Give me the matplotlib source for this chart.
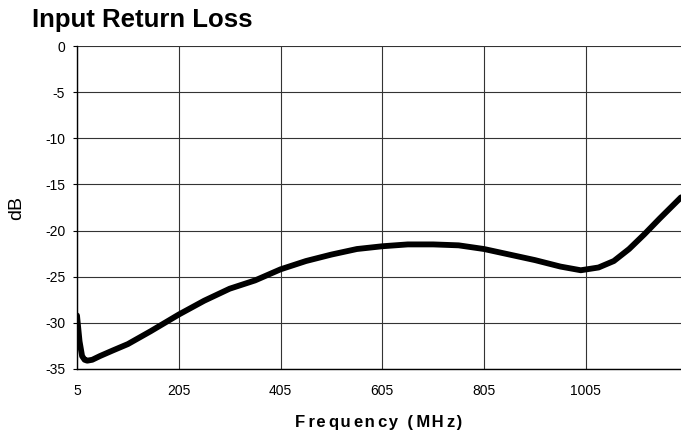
import matplotlib
matplotlib.use("Agg")
import matplotlib.pyplot as plt

freq_mhz = [5, 10, 15, 20, 25, 35, 50, 75, 105, 150, 205, 255, 305, 355, 405,
            455, 505, 555, 605, 655, 705, 755, 805, 855, 905, 955, 995, 1030,
            1060, 1090, 1120, 1150, 1192]
return_loss_db = [-29.2, -32.0, -33.6, -34.0, -34.1, -34.0, -33.6, -33.0, -32.3,
                  -30.9, -29.1, -27.6, -26.3, -25.4, -24.2, -23.3, -22.6, -22.0,
                  -21.7, -21.5, -21.5, -21.6, -22.0, -22.6, -23.2, -23.9, -24.3,
                  -24.0, -23.3, -22.0, -20.4, -18.7, -16.4]
x_ticks = [5, 205, 405, 605, 805, 1005]
y_ticks = [0, -5, -10, -15, -20, -25, -30, -35]

plt.rcParams['font.family'] = ['Liberation Sans', 'DejaVu Sans']

W, H = 681, 433
fig = plt.figure(figsize=(W / 100, H / 100), dpi=100)
ax = fig.add_axes([77/W, 1 - 369/H, 1 - 77/W, (369 - 46)/H])

ax.plot(freq_mhz, return_loss_db, color='black', lw=4.2,
        solid_joinstyle='round', solid_capstyle='round', zorder=3)

ax.set_xlim(5, 1192)
ax.set_ylim(-35, 0)
ax.set_xticks(x_ticks)
ax.set_xticklabels([str(t) for t in x_ticks])
ax.set_yticks(y_ticks)
ax.set_yticklabels([str(t) for t in y_ticks])
ax.grid(True, color='#333333', lw=0.8)
ax.tick_params(axis='x', length=0, pad=10.5, labelsize=10)
ax.tick_params(axis='y', length=3, pad=5.5, labelsize=10, width=0.8)
for s in ['left', 'bottom']:
    ax.spines[s].set_color('black')
    ax.spines[s].set_linewidth(1.0)
ax.spines['right'].set_visible(False)
ax.spines['top'].set_visible(False)

# spaced-out bold x label (alternating thin / hair spaces)
xlabel = 'Frequency (MHz)'
spaced = xlabel[0]
for i, ch in enumerate(xlabel[1:]):
    spaced += ('\u2009' if i % 2 == 0 else '\u200a') + ch
fig.text((77 + W) / 2 / W, 1 - 427/H, spaced, fontsize=12, fontweight='bold',
         ha='center', va='baseline')

fig.text(16.5/W, 1 - 208/H, 'dB', fontsize=14, rotation=90,
         ha='center', va='center')

fig.text(32/W, 1 - 27/H, 'Input Return Loss', fontsize=18.5, fontweight='bold',
         ha='left', va='baseline')

fig.savefig('out.png', dpi=100)
